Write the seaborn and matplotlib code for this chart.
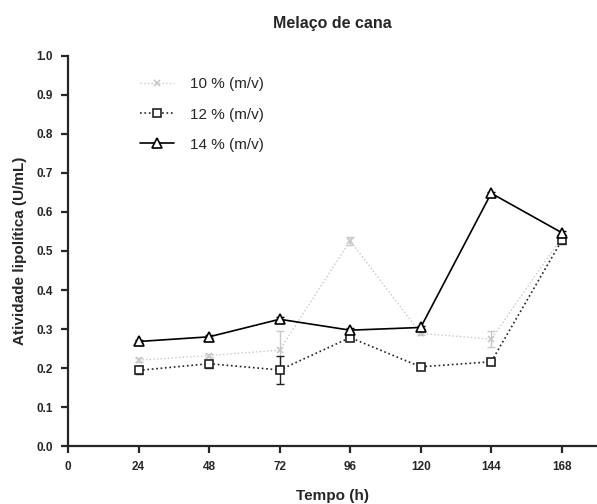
import matplotlib
matplotlib.use("Agg")
import matplotlib.pyplot as plt
import seaborn as sns
import pandas as pd

sns.set_style("ticks")
plt.rcParams["font.family"] = ["Liberation Sans", "DejaVu Sans"]

# data
tempo = [24, 48, 72, 96, 120, 144, 168]
series_names = ["10 % (m/v)", "12 % (m/v)", "14 % (m/v)"]
ativ_10 = [0.220, 0.232, 0.246, 0.526, 0.289, 0.274, 0.534]
ativ_12 = [0.194, 0.211, 0.195, 0.278, 0.203, 0.216, 0.527]
ativ_14 = [0.268, 0.280, 0.325, 0.297, 0.304, 0.648, 0.547]
err_10 = [0.005, 0.005, 0.048, 0.010, 0.004, 0.020, 0.006]
err_12 = [0.010, 0.010, 0.037, 0.006, 0.004, 0.005, 0.008]
err_14 = [0.004, 0.004, 0.005, 0.005, 0.004, 0.004, 0.005]

errors = [err_10, err_12, err_14]

df = pd.DataFrame({
    "tempo": tempo * 3,
    "ativ": ativ_10 + ativ_12 + ativ_14,
    "serie": [n for n in series_names for _ in tempo],
})

styles = {
    "10 % (m/v)": dict(color="#c8c8c8", ls=":", marker="x", ms=4, lw=1.0),
    "12 % (m/v)": dict(color="#222222", ls=":", marker="s", ms=5.5, lw=1.2),
    "14 % (m/v)": dict(color="black", ls="-", marker="^", ms=6.5, lw=1.2),
}

fig = plt.figure(figsize=(5.97, 5.04), dpi=100)
ax = fig.add_axes([0.114, 0.115, 0.886, 0.774])

for name, err in zip(series_names, errors):
    st = styles[name]
    sub = df[df["serie"] == name]
    ax.errorbar(sub["tempo"], sub["ativ"], yerr=err, fmt="none",
                ecolor=st["color"], elinewidth=1.0, capsize=3, ls=":", zorder=2)
    sns.lineplot(data=sub, x="tempo", y="ativ", ax=ax, color=st["color"],
                 linestyle=st["ls"], linewidth=st["lw"], marker=st["marker"],
                 markersize=st["ms"], markerfacecolor="white",
                 markeredgecolor=st["color"], markeredgewidth=1.2,
                 label=name, zorder=3)

ax.set_xlim(0, 180)
ax.set_ylim(0, 1.0)
ax.set_xticks([0] + tempo)
ax.set_yticks([i / 10 for i in range(11)])
ax.set_yticklabels([f"{i / 10:.1f}" for i in range(11)])

for s in ["top", "right"]:
    ax.spines[s].set_visible(False)
for s in ["left", "bottom"]:
    ax.spines[s].set_linewidth(1.6)
ax.tick_params(axis="both", direction="out", length=5, width=1.6,
               labelsize=8.5, pad=6)
for lab in ax.get_xticklabels() + ax.get_yticklabels():
    lab.set_fontweight("bold")

ax.set_xlabel("Tempo (h)", fontsize=11, fontweight="bold", labelpad=11)
ax.set_ylabel("Atividade lipolítica (U/mL)", fontsize=11, fontweight="bold",
              labelpad=7)
ax.set_title("Melaço de cana", fontsize=11.5, fontweight="bold", pad=20)

ax.legend(loc="upper left", bbox_to_anchor=(0.11, 0.98), frameon=False,
          fontsize=11, handlelength=2.2, handletextpad=1.1, labelspacing=1.05)

fig.savefig("out.png", dpi=100)
